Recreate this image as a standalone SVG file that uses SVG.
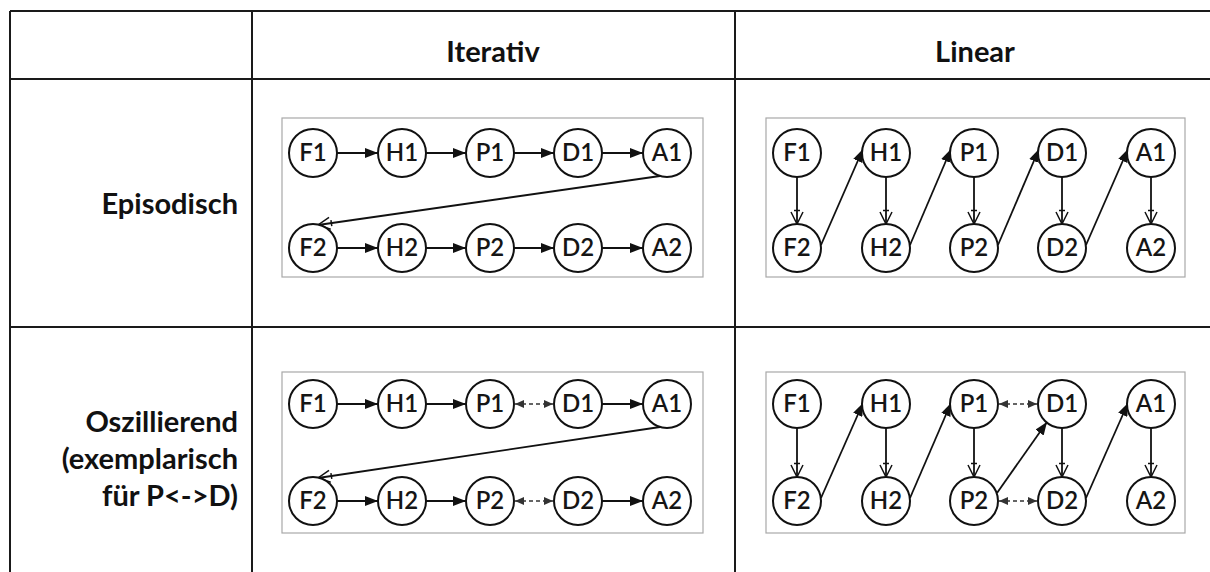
<svg xmlns="http://www.w3.org/2000/svg" width="1210" height="572" viewBox="0 0 1210 572">
  <style>
    .grid { stroke: #1a1a1a; stroke-width: 2; fill: none; }
    .frame { fill: #ffffff; stroke: #a8a8a8; stroke-width: 1.2; }
    .head { font-family: Lato, "Liberation Sans", sans-serif; font-weight: bold; font-size: 29px; fill: #111; }
    .node circle { fill: #ffffff; stroke: #111; stroke-width: 2; }
    .node text { font-family: Lato, "Liberation Sans", sans-serif; font-weight: 600; font-size: 24px; fill: #151515; text-anchor: middle; }
    .edge { stroke: #111; stroke-width: 1.8; fill: none; }
    .osc { stroke: #333; stroke-width: 1.6; fill: none; stroke-dasharray: 4 3; }
  </style>
  <defs>
    <!-- solid triangular head -->
    <marker id="solid" viewBox="0 0 13 10" refX="13" refY="5" markerWidth="13" markerHeight="10" markerUnits="userSpaceOnUse" orient="auto">
      <path d="M0,0 L13,5 L0,10 z" fill="#111"/>
    </marker>
    <!-- open V head with a small cross tick -->
    <marker id="open" viewBox="-3 -7 16 14" refX="12" refY="0" markerWidth="16" markerHeight="14" markerUnits="userSpaceOnUse" orient="auto">
      <path d="M0,-6 L12,0 L0,6 M-1.5,-3 L-1.5,3" fill="none" stroke="#111" stroke-width="1.5"/>
    </marker>
    <!-- small head used on both ends of oscillation links -->
    <marker id="tiny" viewBox="0 0 9 8" refX="9" refY="4" markerWidth="9" markerHeight="8" markerUnits="userSpaceOnUse" orient="auto-start-reverse">
      <path d="M0,0 L9,4 L0,8 z" fill="#333"/>
    </marker>
  </defs>

  <rect width="1210" height="572" fill="#ffffff"/>

  <!-- table rules -->
  <g id="table">
    <line class="grid" x1="10" y1="11" x2="1210" y2="11"/>
    <line class="grid" x1="10" y1="79" x2="1210" y2="79"/>
    <line class="grid" x1="10" y1="327" x2="1210" y2="327"/>
    <line class="grid" x1="10" y1="11" x2="10" y2="572"/>
    <line class="grid" x1="252" y1="11" x2="252" y2="572"/>
    <line class="grid" x1="735" y1="11" x2="735" y2="572"/>
  </g>

  <!-- headers and row labels -->
  <g id="labels">
    <text class="head" x="493" y="62" text-anchor="middle">Iterativ</text>
    <text class="head" x="975" y="62" text-anchor="middle">Linear</text>
    <text class="head" x="238" y="214" text-anchor="end">Episodisch</text>
    <text class="head" x="238" y="432" text-anchor="end">Oszillierend</text>
    <text class="head" x="238" y="469" text-anchor="end">(exemplarisch</text>
    <text class="head" x="238" y="506" text-anchor="end">für P&lt;-&gt;D)</text>
  </g>

  <!-- panel backgrounds -->
  <g id="frames">
    <rect class="frame" x="282" y="118" width="421" height="159"/>
    <rect class="frame" x="766" y="118" width="419" height="159"/>
    <rect class="frame" x="282" y="372" width="421" height="161"/>
    <rect class="frame" x="766" y="372" width="419" height="161"/>
  </g>

  <!-- connectors -->
  <g id="connectors">
    <!-- iterative, episodic -->
    <line class="edge" x1="337" y1="153" x2="378" y2="153" marker-end="url(#solid)"/>
    <line class="edge" x1="426" y1="153" x2="466" y2="153" marker-end="url(#solid)"/>
    <line class="edge" x1="514" y1="153" x2="554" y2="153" marker-end="url(#solid)"/>
    <line class="edge" x1="602" y1="153" x2="643" y2="153" marker-end="url(#solid)"/>
    <line class="edge" x1="660" y1="176" x2="318" y2="225" marker-end="url(#open)"/>
    <line class="edge" x1="337" y1="248" x2="378" y2="248" marker-end="url(#solid)"/>
    <line class="edge" x1="426" y1="248" x2="466" y2="248" marker-end="url(#solid)"/>
    <line class="edge" x1="514" y1="248" x2="554" y2="248" marker-end="url(#solid)"/>
    <line class="edge" x1="602" y1="248" x2="643" y2="248" marker-end="url(#solid)"/>

    <!-- linear, episodic -->
    <line class="edge" x1="797" y1="177" x2="797" y2="224" marker-end="url(#open)"/>
    <line class="edge" x1="886" y1="177" x2="886" y2="224" marker-end="url(#open)"/>
    <line class="edge" x1="974" y1="177" x2="974" y2="224" marker-end="url(#open)"/>
    <line class="edge" x1="1062" y1="177" x2="1062" y2="224" marker-end="url(#open)"/>
    <line class="edge" x1="1151" y1="177" x2="1151" y2="224" marker-end="url(#open)"/>
    <line class="edge" x1="821" y1="245" x2="863" y2="149" marker-end="url(#solid)"/>
    <line class="edge" x1="910" y1="245" x2="951" y2="149" marker-end="url(#solid)"/>
    <line class="edge" x1="998" y1="245" x2="1039" y2="149" marker-end="url(#solid)"/>
    <line class="edge" x1="1086" y1="245" x2="1128" y2="149" marker-end="url(#solid)"/>

    <!-- iterative, oscillating -->
    <line class="edge" x1="337" y1="404" x2="378" y2="404" marker-end="url(#solid)"/>
    <line class="edge" x1="426" y1="404" x2="466" y2="404" marker-end="url(#solid)"/>
    <line class="osc" x1="515" y1="404" x2="553" y2="404" marker-start="url(#tiny)" marker-end="url(#tiny)"/>
    <line class="edge" x1="602" y1="404" x2="643" y2="404" marker-end="url(#solid)"/>
    <line class="edge" x1="660" y1="427" x2="318" y2="478" marker-end="url(#open)"/>
    <line class="edge" x1="337" y1="501" x2="378" y2="501" marker-end="url(#solid)"/>
    <line class="edge" x1="426" y1="501" x2="466" y2="501" marker-end="url(#solid)"/>
    <line class="osc" x1="515" y1="501" x2="553" y2="501" marker-start="url(#tiny)" marker-end="url(#tiny)"/>
    <line class="edge" x1="602" y1="501" x2="643" y2="501" marker-end="url(#solid)"/>

    <!-- linear, oscillating -->
    <line class="edge" x1="797" y1="428" x2="797" y2="477" marker-end="url(#open)"/>
    <line class="edge" x1="886" y1="428" x2="886" y2="477" marker-end="url(#open)"/>
    <line class="edge" x1="974" y1="428" x2="974" y2="477" marker-end="url(#open)"/>
    <line class="edge" x1="1062" y1="428" x2="1062" y2="477" marker-end="url(#open)"/>
    <line class="edge" x1="1151" y1="428" x2="1151" y2="477" marker-end="url(#open)"/>
    <line class="edge" x1="821" y1="498" x2="863" y2="403" marker-end="url(#solid)"/>
    <line class="edge" x1="910" y1="498" x2="951" y2="403" marker-end="url(#solid)"/>
    <line class="edge" x1="997" y1="493" x2="1047" y2="422" marker-end="url(#solid)"/>
    <line class="edge" x1="1086" y1="498" x2="1128" y2="403" marker-end="url(#solid)"/>
    <line class="osc" x1="999" y1="404" x2="1037" y2="404" marker-start="url(#tiny)" marker-end="url(#tiny)"/>
    <line class="osc" x1="999" y1="501" x2="1037" y2="501" marker-start="url(#tiny)" marker-end="url(#tiny)"/>
  </g>

  <!-- iterative, episodic nodes -->
  <g id="it-ep">
    <g class="node" id="it-ep-F1"><circle cx="313" cy="153" r="24"/><text x="313" y="161">F1</text></g>
    <g class="node" id="it-ep-H1"><circle cx="402" cy="153" r="24"/><text x="402" y="161">H1</text></g>
    <g class="node" id="it-ep-P1"><circle cx="490" cy="153" r="24"/><text x="490" y="161">P1</text></g>
    <g class="node" id="it-ep-D1"><circle cx="578" cy="153" r="24"/><text x="578" y="161">D1</text></g>
    <g class="node" id="it-ep-A1"><circle cx="667" cy="153" r="24"/><text x="667" y="161">A1</text></g>
    <g class="node" id="it-ep-F2"><circle cx="313" cy="248" r="24"/><text x="313" y="256">F2</text></g>
    <g class="node" id="it-ep-H2"><circle cx="402" cy="248" r="24"/><text x="402" y="256">H2</text></g>
    <g class="node" id="it-ep-P2"><circle cx="490" cy="248" r="24"/><text x="490" y="256">P2</text></g>
    <g class="node" id="it-ep-D2"><circle cx="578" cy="248" r="24"/><text x="578" y="256">D2</text></g>
    <g class="node" id="it-ep-A2"><circle cx="667" cy="248" r="24"/><text x="667" y="256">A2</text></g>
  </g>

  <!-- linear, episodic nodes -->
  <g id="li-ep">
    <g class="node" id="li-ep-F1"><circle cx="797" cy="153" r="24"/><text x="797" y="161">F1</text></g>
    <g class="node" id="li-ep-H1"><circle cx="886" cy="153" r="24"/><text x="886" y="161">H1</text></g>
    <g class="node" id="li-ep-P1"><circle cx="974" cy="153" r="24"/><text x="974" y="161">P1</text></g>
    <g class="node" id="li-ep-D1"><circle cx="1062" cy="153" r="24"/><text x="1062" y="161">D1</text></g>
    <g class="node" id="li-ep-A1"><circle cx="1151" cy="153" r="24"/><text x="1151" y="161">A1</text></g>
    <g class="node" id="li-ep-F2"><circle cx="797" cy="248" r="24"/><text x="797" y="256">F2</text></g>
    <g class="node" id="li-ep-H2"><circle cx="886" cy="248" r="24"/><text x="886" y="256">H2</text></g>
    <g class="node" id="li-ep-P2"><circle cx="974" cy="248" r="24"/><text x="974" y="256">P2</text></g>
    <g class="node" id="li-ep-D2"><circle cx="1062" cy="248" r="24"/><text x="1062" y="256">D2</text></g>
    <g class="node" id="li-ep-A2"><circle cx="1151" cy="248" r="24"/><text x="1151" y="256">A2</text></g>
  </g>

  <!-- iterative, oscillating nodes -->
  <g id="it-os">
    <g class="node" id="it-os-F1"><circle cx="313" cy="404" r="24"/><text x="313" y="412">F1</text></g>
    <g class="node" id="it-os-H1"><circle cx="402" cy="404" r="24"/><text x="402" y="412">H1</text></g>
    <g class="node" id="it-os-P1"><circle cx="490" cy="404" r="24"/><text x="490" y="412">P1</text></g>
    <g class="node" id="it-os-D1"><circle cx="578" cy="404" r="24"/><text x="578" y="412">D1</text></g>
    <g class="node" id="it-os-A1"><circle cx="667" cy="404" r="24"/><text x="667" y="412">A1</text></g>
    <g class="node" id="it-os-F2"><circle cx="313" cy="501" r="24"/><text x="313" y="509">F2</text></g>
    <g class="node" id="it-os-H2"><circle cx="402" cy="501" r="24"/><text x="402" y="509">H2</text></g>
    <g class="node" id="it-os-P2"><circle cx="490" cy="501" r="24"/><text x="490" y="509">P2</text></g>
    <g class="node" id="it-os-D2"><circle cx="578" cy="501" r="24"/><text x="578" y="509">D2</text></g>
    <g class="node" id="it-os-A2"><circle cx="667" cy="501" r="24"/><text x="667" y="509">A2</text></g>
  </g>

  <!-- linear, oscillating nodes -->
  <g id="li-os">
    <g class="node" id="li-os-F1"><circle cx="797" cy="404" r="24"/><text x="797" y="412">F1</text></g>
    <g class="node" id="li-os-H1"><circle cx="886" cy="404" r="24"/><text x="886" y="412">H1</text></g>
    <g class="node" id="li-os-P1"><circle cx="974" cy="404" r="24"/><text x="974" y="412">P1</text></g>
    <g class="node" id="li-os-D1"><circle cx="1062" cy="404" r="24"/><text x="1062" y="412">D1</text></g>
    <g class="node" id="li-os-A1"><circle cx="1151" cy="404" r="24"/><text x="1151" y="412">A1</text></g>
    <g class="node" id="li-os-F2"><circle cx="797" cy="501" r="24"/><text x="797" y="509">F2</text></g>
    <g class="node" id="li-os-H2"><circle cx="886" cy="501" r="24"/><text x="886" y="509">H2</text></g>
    <g class="node" id="li-os-P2"><circle cx="974" cy="501" r="24"/><text x="974" y="509">P2</text></g>
    <g class="node" id="li-os-D2"><circle cx="1062" cy="501" r="24"/><text x="1062" y="509">D2</text></g>
    <g class="node" id="li-os-A2"><circle cx="1151" cy="501" r="24"/><text x="1151" y="509">A2</text></g>
  </g>
</svg>
